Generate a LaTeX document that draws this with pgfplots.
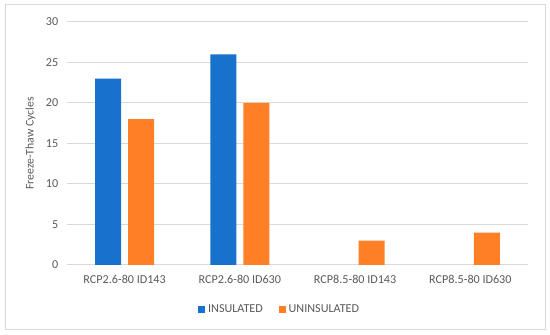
\documentclass[border=0pt]{standalone}
\usepackage{pgfplots}
\pgfplotsset{compat=1.18}
\usepackage{fontspec}
\setmainfont{Carlito}
\definecolor{barblue}{RGB}{24,113,204}
\definecolor{barorange}{RGB}{255,127,39}
\definecolor{txtgray}{RGB}{89,89,89}
\definecolor{gridgray}{RGB}{217,217,217}
\begin{document}
\begin{tikzpicture}
\path[use as bounding box] (0pt,0pt) rectangle (412.5pt,251.25pt);
\draw[gridgray, line width=0.75pt] (3.75pt,3.75pt) rectangle (408.75pt,247.5pt);
\begin{axis}[
  at={(50.25pt,52.5pt)}, anchor=south west,
  scale only axis,
  width=345.75pt, height=182.25pt,
  ymin=0, ymax=30, ytick={0,5,...,30},
  xmin=-0.5, xmax=3.5,
  xtick={0,1,2,3},
  xticklabels={RCP2.6-80 ID143, RCP2.6-80 ID630, RCP8.5-80 ID143, RCP8.5-80 ID630},
  ybar, bar width=19.5pt,
  axis x line*=bottom,
  axis y line*=left,
  x axis line style={draw=gridgray, line width=0.75pt, -},
  y axis line style={draw=none},
  ymajorgrids, grid style={gridgray, line width=0.75pt},
  major tick length=0pt,
  tick label style={font=\fontsize{9.1}{10}\selectfont, text=txtgray},
  /pgf/number format/assume math mode=true,
  yticklabel style={xshift=-3pt},
  xticklabel style={yshift=-4pt},
  ylabel={Freeze-Thaw Cycles},
  ylabel style={font=\fontsize{8.8}{10}\selectfont, text=txtgray, yshift=1pt},
  legend style={at={(axis description cs:0.462,-0.183)}, anchor=center, draw=none, font=\fontsize{9.1}{10}\selectfont, text=txtgray, legend columns=2, /tikz/every even column/.append style={column sep=10pt}},
  legend image code/.code={\fill[#1] (0pt,-2.7pt) rectangle (5.4pt,2.7pt);},
]
\addplot[fill=barblue, draw=none, bar shift=-12.4pt] coordinates {(0,23) (1,26)};
\addplot[fill=barorange, draw=none, bar shift=12.4pt] coordinates {(0,18) (1,20) (2,3) (3,4)};
\legend{INSULATED, UNINSULATED}
\end{axis}
\end{tikzpicture}
\end{document}
